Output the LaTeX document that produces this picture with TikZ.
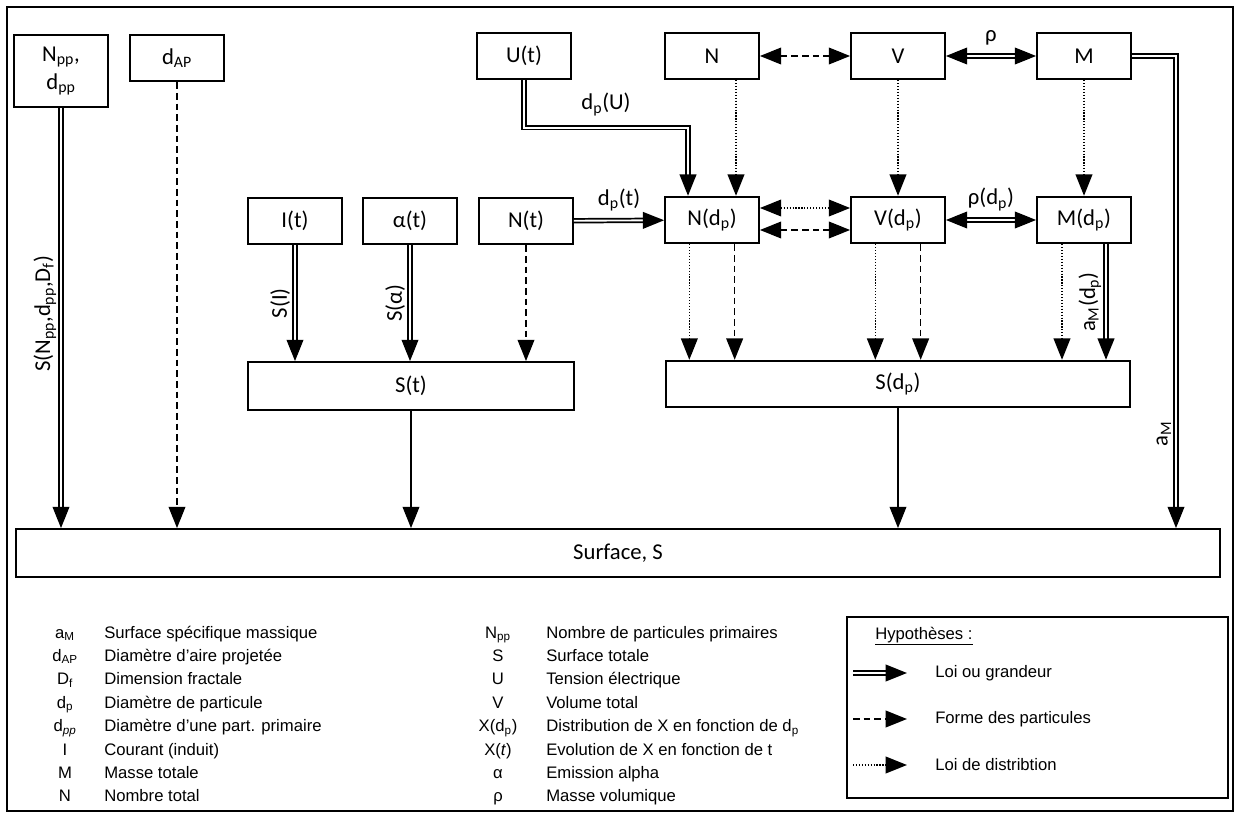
\documentclass[tikz,border=0pt]{standalone}
\usepackage{fontspec}
\setmainfont{Liberation Sans}
\newfontfamily\diagfont{Carlito}
\usetikzlibrary{arrows.meta}

\begin{document}
\begin{tikzpicture}[x=0.75pt,y=-0.75pt,
                      every node/.style={font=\diagfont\fontsize{17}{19}\selectfont},
                      blk/.style={draw,line width=1.3pt,minimum width=70.5pt,minimum height=35pt,inner sep=1pt},
                      legtext/.style={font=\fontsize{12.5}{14}\selectfont,inner sep=0pt},
                      lbl/.style={rotate=90,anchor=south,inner sep=3pt},
                      tip/.style={-{Triangle[length=16pt,width=12.5pt]}},
                      tips/.style={{Triangle[length=16pt,width=12.5pt]}-{Triangle[length=16pt,width=12.5pt]}},
                      law/.style={double,line width=1.3pt,double distance=1.4pt},
                      form/.style={line width=1.2pt,dash pattern=on 5pt off 3pt},
                      distrib/.style={line width=1.2pt,dash pattern=on 0.9pt off 1.3pt},
                      plain/.style={line width=1.2pt}]
    \useasboundingbox (0,0) rectangle (1236,817);
    \draw[line width=1pt] (7,7) rectangle (1233,811);

    % boxes
    \node[blk,minimum height=54pt,align=center] (npp) at (61,71) {N\textsubscript{pp},\\[2pt]d\textsubscript{pp}};
    \node[blk] (dap) at (177,58) {d\textsubscript{AP}};
    \node[blk] (ut) at (524,56) {U(t)};
    \node[blk] (ntot) at (712,56) {N};
    \node[blk] (vtot) at (898,56) {V};
    \node[blk] (mtot) at (1084,56) {M};
    \node[blk] (it) at (295,221) {I(t)};
    \node[blk] (alt) at (410,221) {α(t)};
    \node[blk] (nt) at (526,221) {N(t)};
    \node[blk] (ndp) at (712,220) {N(d\textsubscript{p})};
    \node[blk] (vdp) at (898,220) {V(d\textsubscript{p})};
    \node[blk] (mdp) at (1084,220) {M(d\textsubscript{p})};
    \node[blk,minimum width=245pt,minimum height=36pt] (st) at (411,386) {S(t)};
    \node[blk,minimum width=348pt] (sdp) at (898,384) {S(d\textsubscript{p})};
    \node[blk,minimum width=903pt,minimum height=36pt] (surf) at (618,553) {Surface, S};
    \coordinate (mcol) at (1176,0);

    % top row
    \draw[law,tip] (ut.south) -- ++(0,47.5) -| ([xshift=-18pt]ndp.north)
      node[pos=0.25,above=5pt] {d\textsubscript{p}(U)};
    \draw[distrib,tip] ([xshift=18pt]ntot.south) -- ([xshift=18pt]ndp.north);
    \draw[form,tips] (ntot) -- (vtot);
    \draw[law,tips] (vtot) -- (mtot) node[midway,above=4pt] {ρ};
    \draw[distrib,tip] (vtot) -- (vdp);
    \draw[distrib,tip] (mtot) -- (mdp);
    \draw[law,tip] (mtot.east) -| (mcol |- surf.north) node[pos=0.9,lbl] {a\textsubscript{M}};

    % middle row
    \draw[law,tip] (nt) -- (ndp) node[midway,above=3pt] {d\textsubscript{p}(t)};
    \draw[distrib,tips] ([yshift=9pt]ndp.east) -- ([yshift=9pt]vdp.west);
    \draw[form,tips] ([yshift=-7.5pt]ndp.east) -- ([yshift=-7.5pt]vdp.west);
    \draw[law,tips] (vdp) -- (mdp) node[midway,above=3pt] {ρ(d\textsubscript{p})};

    % towards S(t)
    \draw[law,tip] (it) -- (it |- st.north) node[midway,lbl] {S(I)};
    \draw[law,tip] (alt) -- (alt |- st.north) node[midway,lbl] {S(α)};
    \draw[form,tip] (nt) -- (nt |- st.north);

    % towards S(dp)
    \foreach \b in {ndp,vdp} {
      \draw[distrib,tip] ([xshift=-17pt]\b.south) -- ([xshift=-17pt]\b.south |- sdp.north);
      \draw[form,tip] ([xshift=17pt]\b.south) -- ([xshift=17pt]\b.south |- sdp.north);
    }
    \draw[distrib,tip] ([xshift=-16.5pt]mdp.south) -- ([xshift=-16.5pt]mdp.south |- sdp.north);
    \draw[law,tip] ([xshift=16.5pt]mdp.south) -- ([xshift=16.5pt]mdp.south |- sdp.north)
      node[midway,lbl] {a\textsubscript{M}(d\textsubscript{p})};

    % towards the surface
    \draw[law,tip] (npp) -- (npp |- surf.north)
      node[pos=0.49,lbl] {S(N\textsubscript{pp},d\textsubscript{pp},D\textsubscript{f})};
    \draw[form,tip] (dap) -- (dap |- surf.north);
    \draw[plain,tip] (st) -- (st |- surf.north);
    \draw[plain,tip] (sdp) -- (sdp |- surf.north);

    % notation
    \foreach \sym/\txt [count=\i from 0] in {a\textsubscript{M}/Surface spécifique massique,
        d\textsubscript{AP}/Diamètre d’aire projetée, D\textsubscript{f}/Dimension fractale,
        d\textsubscript{p}/Diamètre de particule, d\textsubscript{\itshape pp}/Diamètre d’une part. primaire,
        I/Courant (induit), M/Masse totale, N/Nombre total} {
      \node[legtext,anchor=base] (syma\i) at (65,{638+23.4*\i}) {\sym};
      \node[legtext,anchor=base west] (defa\i) at (104,{638+23.4*\i}) {\txt};
    }
    \foreach \sym/\txt [count=\i from 0] in {N\textsubscript{pp}/Nombre de particules primaires,
        S/Surface totale, U/Tension électrique, V/Volume total,
        X(d\textsubscript{p})/Distribution de X en fonction de d\textsubscript{p},
        X(\textit{t})/Evolution de X en fonction de t, α/Emission alpha, ρ/Masse volumique} {
      \node[legtext,anchor=base] (symb\i) at (498,{638+23.4*\i}) {\sym};
      \node[legtext,anchor=base west] (defb\i) at (546,{638+23.4*\i}) {\txt};
    }

    % hypotheses
    \draw[line width=0.8pt] (847,617) rectangle (1228,798);
    \node[legtext,anchor=base west] (hyp) at (875,639) {\underline{Hypothèses :}};
    \foreach \sty/\txt [count=\i from 0] in {law/Loi ou grandeur,form/Forme des particules,distrib/Loi de distribtion} {
      \node[legtext,anchor=west] (hyp\i) at (935,{673+46*\i}) {\txt};
      \coordinate (hs\i) at (853,{673+46*\i});
      \draw[\sty,tip] (hs\i) -- ([xshift=-21pt]hyp\i.west);
    }
\end{tikzpicture}
\end{document}
